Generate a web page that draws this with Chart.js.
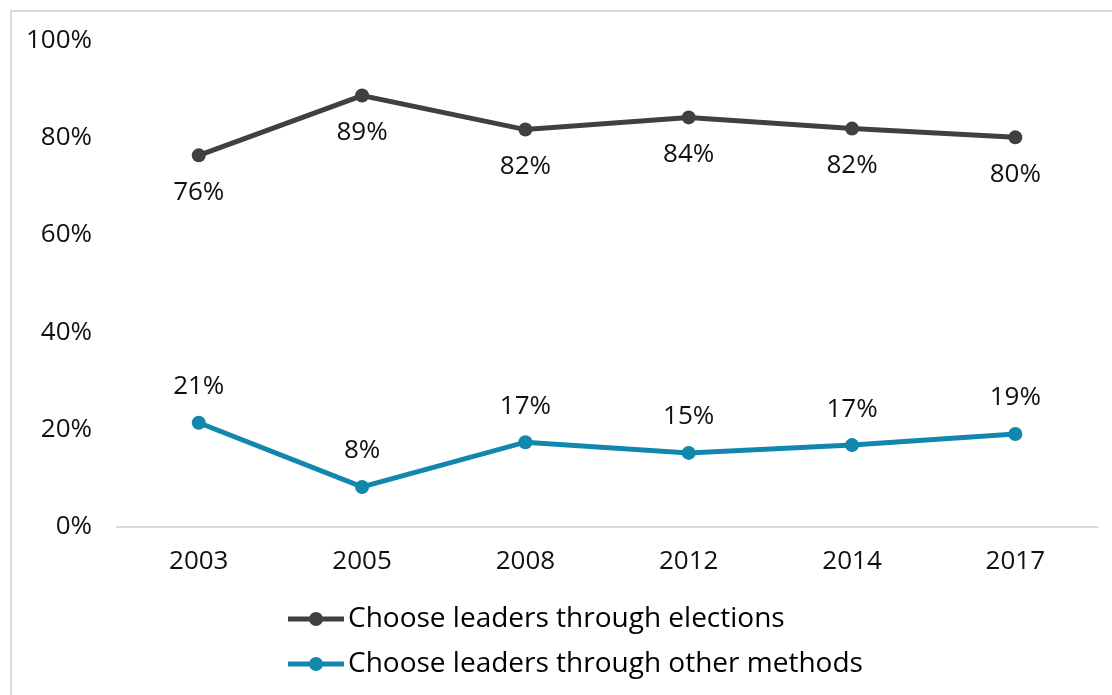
<!DOCTYPE html>
<html>
<head>
<meta charset="utf-8">
<script src="https://cdn.jsdelivr.net/npm/chart.js@4"></script>
<style>
  html, body { margin: 0; padding: 0; background: #fff; overflow: hidden; }
  #frame { position: absolute; left: 10px; top: 10px; width: 1200px; height: 800px; border: 2px solid #d9d9d9; box-sizing: border-box; }
  #wrap { position: absolute; left: 0; top: 0; width: 1112px; height: 695px; }
</style>
</head>
<body>
<div id="frame"></div>
<div id="wrap"><canvas id="chart"></canvas></div>
<script>
const years = ['2003', '2005', '2008', '2012', '2014', '2017'];
const elections = [76.4, 88.7, 81.7, 84.2, 81.9, 80.1];
const otherMethods = [21.4, 8.2, 17.4, 15.2, 16.8, 19.1];
const yTicks = [0, 20, 40, 60, 80, 100];

const darkGray = '#404040';
const blue = '#1287ae';
const font = 'Open Sans';

// little line + dot marker for the legend
function legendMarker(color) {
  const c = document.createElement('canvas');
  c.width = 56;
  c.height = 16;
  const g = c.getContext('2d');
  g.strokeStyle = color;
  g.lineWidth = 5;
  g.beginPath();
  g.moveTo(0, 8);
  g.lineTo(56, 8);
  g.stroke();
  g.fillStyle = color;
  g.beginPath();
  g.arc(28, 8, 7, 0, Math.PI * 2);
  g.fill();
  return c;
}

const pointLabels = {
  id: 'pointLabels',
  afterDatasetsDraw(chart) {
    const ctx = chart.ctx;
    ctx.save();
    ctx.font = '26px "' + font + '"';
    ctx.fillStyle = '#111';
    ctx.textAlign = 'center';
    ctx.textBaseline = 'middle';
    chart.data.datasets.forEach((ds, i) => {
      const meta = chart.getDatasetMeta(i);
      const off = i === 0 ? 37 : -36;
      meta.data.forEach((pt, j) => {
        ctx.fillText(Math.round(ds.data[j]) + '%', pt.x, pt.y + off);
      });
    });
    ctx.restore();
  }
};

// keep the legend rows left aligned under the plot
const legendShift = {
  id: 'legendShift',
  afterLayout(chart) {
    chart.legend.left = 281;
  }
};

const ctx = document.getElementById('chart').getContext('2d');

new Chart(ctx, {
  type: 'line',
  data: {
    labels: years,
    datasets: [{
      label: 'Choose leaders through elections',
      data: elections,
      borderColor: darkGray,
      backgroundColor: darkGray,
      borderWidth: 5,
      pointRadius: 7,
      pointHoverRadius: 7,
      pointBorderWidth: 0,
      tension: 0
    }, {
      label: 'Choose leaders through other methods',
      data: otherMethods,
      borderColor: blue,
      backgroundColor: blue,
      borderWidth: 5,
      pointRadius: 7,
      pointHoverRadius: 7,
      pointBorderWidth: 0,
      tension: 0
    }]
  },
  options: {
    responsive: true,
    maintainAspectRatio: false,
    animation: false,
    layout: {
      padding: { left: 1, right: 15, top: 40, bottom: 7 }
    },
    plugins: {
      tooltip: { enabled: false },
      legend: {
        position: 'bottom',
        align: 'start',
        fullSize: false,
        labels: {
          usePointStyle: true,
          pointStyleWidth: 36,
          padding: 17,
          color: '#111',
          font: { family: font, size: 28 },
          generateLabels(chart) {
            return chart.data.datasets.map((ds, i) => ({
              text: ds.label,
              pointStyle: legendMarker(ds.borderColor),
              fillStyle: ds.borderColor,
              strokeStyle: ds.borderColor,
              lineWidth: 0,
              hidden: false,
              datasetIndex: i
            }));
          }
        }
      }
    },
    scales: {
      x: {
        offset: true,
        grid: { display: false, drawTicks: false },
        border: { display: true, color: '#d9d9d9', width: 2 },
        ticks: { padding: 19, color: '#111', font: { family: font, size: 26 } },
        afterFit(scale) { scale.height -= 8; }
      },
      y: {
        min: 0,
        max: 100,
        afterBuildTicks(scale) { scale.ticks = yTicks.map(v => ({ value: v })); },
        grid: { display: false, drawTicks: false },
        border: { display: false },
        ticks: {
          padding: 25,
          color: '#111',
          font: { family: font, size: 26 },
          callback: v => v + '%'
        }
      }
    }
  },
  plugins: [pointLabels, legendShift]
});
</script>
</body>
</html>
